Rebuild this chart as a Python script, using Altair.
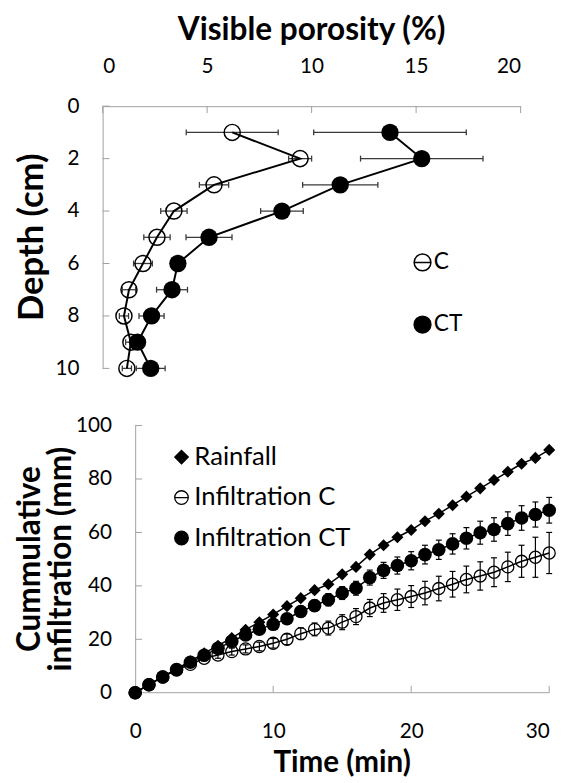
import altair as alt
import pandas as pd

FONT = "Lato"

# ---------------- Top panel: visible porosity vs depth ----------------
depth = [1, 2, 3, 4, 5, 6, 7, 8, 9, 10]
por_c = [6.2, 9.45, 5.33, 3.41, 2.6, 1.93, 1.26, 1.02, 1.35, 1.16]
por_c_err = [2.2, 0.55, 0.7, 0.63, 0.63, 0.45, 0.32, 0.22, 0.25, 0.22]
por_ct = [13.75, 15.27, 11.37, 8.58, 5.09, 3.6, 3.32, 2.34, 1.67, 2.3]
por_ct_err = [3.65, 2.93, 1.8, 1.02, 1.1, 0.3, 0.74, 0.6, 0.25, 0.69]
por_ticks = [0, 5, 10, 15, 20]
depth_ticks = [0, 2, 4, 6, 8, 10]
top_series = ["C", "CT"]
top_x_title = "Visible porosity (%)"
top_y_title = "Depth (cm)"

# ---------------- Bottom panel: cumulative infiltration ----------------
time_min = list(range(31))
rain = [0, 3.0, 6.0, 8.9, 11.8, 14.8, 17.6, 20.5, 23.6, 26.4, 29.3, 32.4, 35.4,
        38.4, 40.6, 44.3, 47.1, 51.7, 55.2, 58.2, 60.9, 64.2, 67.0, 70.2, 73.4,
        76.5, 79.6, 82.7, 85.7, 87.9, 90.9]
inf_c = [0, 3.0, 5.9, 8.5, 10.6, 12.9, 14.1, 15.4, 16.4, 17.3, 18.5, 20.0, 22.1,
         23.7, 24.2, 26.4, 28.5, 31.7, 33.6, 34.8, 36.0, 37.3, 39.0, 40.6, 42.4,
         43.7, 45.1, 47.1, 49.2, 50.7, 52.3]
inf_c_err = [0, 0.3, 0.5, 0.7, 0.9, 1.0, 1.2, 1.3, 1.5, 1.6, 1.8, 2.0, 2.2, 2.4,
             2.6, 2.8, 3.0, 3.2, 3.5, 4.0, 4.1, 4.4, 4.6, 4.8, 5.0, 5.3, 5.4, 5.5,
             6.0, 7.5, 7.7]
inf_ct = [0, 3.0, 5.9, 8.7, 11.4, 14.0, 16.6, 19.2, 21.6, 23.8, 25.6, 27.7, 30.4,
          32.6, 34.8, 37.3, 39.1, 43.1, 45.8, 47.6, 49.4, 51.7, 53.5, 55.7, 57.8,
          59.9, 61.1, 63.3, 65.4, 66.7, 68.3]
inf_ct_err = [0, 0.3, 0.5, 0.6, 0.8, 1.0, 1.1, 1.2, 1.4, 1.5, 1.7, 1.8, 2.0, 2.1,
              2.3, 2.4, 2.6, 2.8, 3.0, 3.2, 3.4, 3.5, 3.6, 3.8, 4.0, 4.3, 4.4, 4.4,
              4.6, 4.7, 4.8]
time_ticks = [0, 10, 20, 30]
inf_ticks = [0, 20, 40, 60, 80, 100]
bottom_series = ["Rainfall", "Infiltration C", "Infiltration CT"]
bot_x_title = "Time (min)"
bot_y_title = ["Cummulative", "infiltration (mm)"]

# circle with a horizontal bar (Excel legend symbol of a marker with x-error bars)
CIRC_BAR = "M-1,0A1,1,0,1,0,1,0A1,1,0,1,0,-1,0ZM-1,0L1,0"
AXIS_GRAY = "#a0a0a0"
ERR_GRAY = "#3a3a3a"

# layout: both panels share the same left plot edge; the lower panel's
# value axis sits further right, so its time scale starts a bit before 0
W_TOP, H_TOP = 424, 266
W_BOT, H_BOT = 453, 271
SHIFT = 33  # px between lower plot edge and its y axis
T_MIN = -SHIFT * 30 / (W_BOT - SHIFT)

# ---------------- tables ----------------
top_df = pd.DataFrame({
    "depth": depth + depth,
    "por": por_c + por_ct,
    "err": por_c_err + por_ct_err,
    "series": ["C"] * len(depth) + ["CT"] * len(depth),
})
top_df["lo"] = top_df["por"] - top_df["err"]
top_df["hi"] = top_df["por"] + top_df["err"]

n = len(time_min)
bot_df = pd.DataFrame({
    "time": time_min * 3,
    "val": rain + inf_c + inf_ct,
    "err": [0.0] * n + inf_c_err + inf_ct_err,
    "series": ["Rainfall"] * n + ["Infiltration C"] * n + ["Infiltration CT"] * n,
})
bot_df["lo"] = bot_df["val"] - bot_df["err"]
bot_df["hi"] = bot_df["val"] + bot_df["err"]


def title_text(txt, x, y, size, angle=0):
    return alt.Chart(pd.DataFrame({"t": [txt]})).mark_text(
        font=FONT, fontSize=size, fontWeight="bold", color="black", angle=angle,
        align="center", baseline="middle"
    ).encode(text="t:N", x=alt.value(x), y=alt.value(y))


# ---------------- top chart ----------------
xs_t = alt.Scale(domain=[0, 20], nice=False, zero=False)
ys_t = alt.Scale(domain=[0, 10], nice=False, reverse=True, zero=False)
xa_t = alt.Axis(orient="top", title=None, values=por_ticks, ticks=False, labelPadding=30, grid=False)
ya_t = alt.Axis(title=None, values=depth_ticks, ticks=False, labelPadding=24, grid=False)


def XT(f):
    return alt.X(f"{f}:Q", scale=xs_t, axis=xa_t)


def YT(f):
    return alt.Y(f"{f}:Q", scale=ys_t, axis=ya_t)


bt = alt.Chart(top_df)
t_err = bt.mark_rule(color=ERR_GRAY, strokeWidth=1.3).encode(x=XT("lo"), x2="hi", y=YT("depth"))
t_cap_lo = bt.mark_tick(orient="vertical", size=6, thickness=1.3, color=ERR_GRAY, opacity=1).encode(
    x=XT("lo"), y=YT("depth"))
t_cap_hi = bt.mark_tick(orient="vertical", size=6, thickness=1.3, color=ERR_GRAY, opacity=1).encode(
    x=XT("hi"), y=YT("depth"))
t_line = bt.mark_line(color="black", strokeWidth=2).encode(
    x=XT("por"), y=YT("depth"), detail="series:N", order="depth:Q")
t_pc = bt.transform_filter(alt.datum.series == "C").mark_point(
    shape="circle", size=265, filled=False, stroke="black", strokeWidth=1.5, opacity=1
).encode(x=XT("por"), y=YT("depth"))
t_pct = bt.transform_filter(alt.datum.series == "CT").mark_point(
    shape="circle", size=310, filled=True, color="black", opacity=1
).encode(x=XT("por"), y=YT("depth"))

leg_t = alt.Legend(orient="none", legendX=313, legendY=147, title=None,
                   labelFont=FONT, labelFontSize=23, labelColor="black",
                   symbolSize=290, symbolStrokeWidth=1.5,
                   symbolOpacity=1, rowPadding=38, labelOffset=0)
t_leg = bt.transform_filter("false").mark_point(filled=False, opacity=1, strokeWidth=1.5).encode(
    x=XT("por"), y=YT("depth"),
    shape=alt.Shape("series:N", scale=alt.Scale(domain=top_series, range=[CIRC_BAR, "circle"]), legend=leg_t),
    fill=alt.Fill("series:N", scale=alt.Scale(domain=top_series, range=["white", "black"]), legend=leg_t),
    stroke=alt.Stroke("series:N", scale=alt.Scale(domain=top_series, range=["black", "black"]), legend=leg_t),
)
t_tx = alt.Chart(pd.DataFrame({"v": por_ticks})).mark_rule(color=AXIS_GRAY).encode(
    x=XT("v"), y=alt.value(0), y2=alt.value(7))
t_ty = alt.Chart(pd.DataFrame({"v": depth_ticks})).mark_rule(color=AXIS_GRAY).encode(
    y=YT("v"), x=alt.value(0), x2=alt.value(7))
t_title_x = title_text(top_x_title, W_TOP / 2, -77.5, 32)
t_title_y = title_text(top_y_title, -71, H_TOP / 2, 35, angle=270)

top = alt.layer(t_tx, t_ty, t_err, t_cap_lo, t_cap_hi, t_line, t_pc, t_pct, t_leg,
                t_title_x, t_title_y).properties(width=W_TOP, height=H_TOP)

# ---------------- bottom chart ----------------
xs_b = alt.Scale(domain=[T_MIN, 30], nice=False, zero=False)
ys_b = alt.Scale(domain=[0, 100], nice=False, zero=False)
xa_b = alt.Axis(title=None, values=time_ticks, ticks=False, domain=False, labelPadding=28, grid=False)
ya_b = alt.Axis(title=None, values=inf_ticks, ticks=False, labelPadding=24, grid=False, offset=-SHIFT)


def XB(f):
    return alt.X(f"{f}:Q", scale=xs_b, axis=xa_b)


def YB(f):
    return alt.Y(f"{f}:Q", scale=ys_b, axis=ya_b)


bb = alt.Chart(bot_df)
bb_err = alt.Chart(bot_df).transform_filter(alt.datum.err > 0)
b_err = bb_err.mark_rule(color="black", strokeWidth=1.2).encode(x=XB("time"), y=YB("lo"), y2="hi")
b_cap_lo = bb_err.mark_tick(orient="horizontal", size=6, thickness=1.2, color="black", opacity=1).encode(
    x=XB("time"), y=YB("lo"))
b_cap_hi = bb_err.mark_tick(orient="horizontal", size=6, thickness=1.2, color="black", opacity=1).encode(
    x=XB("time"), y=YB("hi"))
b_line = bb.mark_line(color="black", strokeWidth=1.5).encode(
    x=XB("time"), y=YB("val"), detail="series:N", order="time:Q")
b_pc = bb.transform_filter(alt.datum.series == "Infiltration C").mark_point(
    shape="circle", size=150, filled=False, stroke="black", strokeWidth=1.3, opacity=1
).encode(x=XB("time"), y=YB("val"))
b_pct = bb.transform_filter(alt.datum.series == "Infiltration CT").mark_point(
    shape="circle", size=190, filled=True, color="black", opacity=1
).encode(x=XB("time"), y=YB("val"))
b_pr = bb.transform_filter(alt.datum.series == "Rainfall").mark_point(
    shape="diamond", size=150, filled=True, color="black", opacity=1
).encode(x=XB("time"), y=YB("val"))

leg_b = alt.Legend(orient="none", legendX=67, legendY=19, title=None,
                   labelFont=FONT, labelFontSize=26, labelColor="black",
                   symbolSize=190, symbolStrokeWidth=1.3,
                   symbolOpacity=1, rowPadding=15, labelOffset=0)
b_leg = bb.transform_filter("false").mark_point(filled=False, opacity=1, strokeWidth=1.3).encode(
    x=XB("time"), y=YB("val"),
    shape=alt.Shape("series:N", scale=alt.Scale(domain=bottom_series, range=["diamond", CIRC_BAR, "circle"]),
                    legend=leg_b),
    fill=alt.Fill("series:N", scale=alt.Scale(domain=bottom_series, range=["black", "white", "black"]),
                  legend=leg_b),
    stroke=alt.Stroke("series:N", scale=alt.Scale(domain=bottom_series, range=["black", "black", "black"]),
                      legend=leg_b),
)
# inner tick marks and the time-axis line (from the first to the last tick)
b_tx = alt.Chart(pd.DataFrame({"v": time_ticks})).mark_rule(color=AXIS_GRAY).encode(
    x=XB("v"), y=alt.value(H_BOT), y2=alt.value(H_BOT - 7))
b_ty = alt.Chart(pd.DataFrame({"v": inf_ticks, "t0": [time_ticks[0]] * len(inf_ticks)})).mark_tick(
    orient="horizontal", size=7, thickness=1, color=AXIS_GRAY, xOffset=3.5, opacity=1
).encode(y=YB("v"), x=XB("t0"))
b_xdom = alt.Chart(pd.DataFrame({"a": [time_ticks[0]], "b": [time_ticks[-1]], "y0": [inf_ticks[0]]})).mark_rule(
    color=AXIS_GRAY, strokeWidth=1).encode(x=XB("a"), x2="b", y=YB("y0"))
b_title_x = title_text(bot_x_title, SHIFT + (W_BOT - SHIFT) / 2, H_BOT + 71, 30)
b_title_y1 = title_text(bot_y_title[0], -74, H_BOT / 2, 32, angle=270)
b_title_y2 = title_text(bot_y_title[1], -42, H_BOT / 2, 32, angle=270)

bottom = alt.layer(b_xdom, b_tx, b_ty, b_err, b_cap_lo, b_cap_hi, b_line, b_pc, b_pct, b_pr, b_leg,
                   b_title_x, b_title_y1, b_title_y2).properties(width=W_BOT, height=H_BOT)

chart = alt.vconcat(top, bottom, spacing=35).properties(
    padding={"left": 6, "top": 0, "right": 5, "bottom": 0}
).resolve_scale(shape="independent", fill="independent", stroke="independent").configure_view(
    stroke=None
).configure_axis(
    domainColor=AXIS_GRAY, domainWidth=1, labelFont=FONT, labelFontSize=21, labelColor="black", grid=False
).configure_legend(labelFont=FONT)

chart.save("out.html", embed_options={"renderer": "svg", "actions": False})
